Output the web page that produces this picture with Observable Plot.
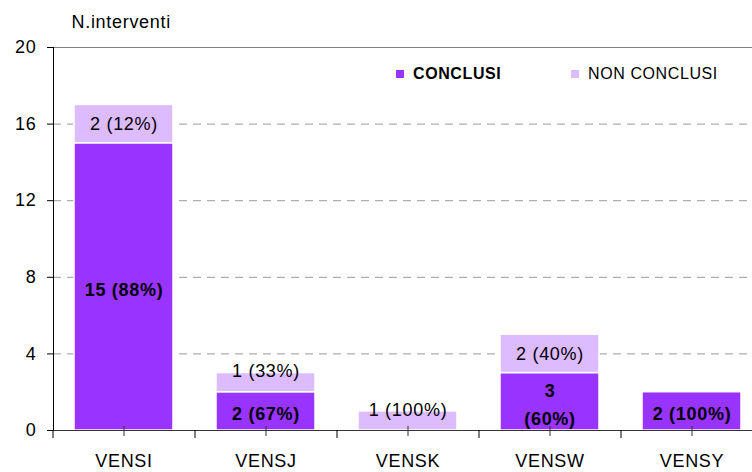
<!DOCTYPE html>
<html><head><meta charset="utf-8">
<script src="https://cdn.jsdelivr.net/npm/d3@7"></script>
<script src="https://cdn.jsdelivr.net/npm/@observablehq/plot@0.6"></script>
<style>
body{margin:0;background:#fff;}
#wrap{position:relative;width:752px;height:472px;overflow:hidden;font-family:"Liberation Sans",Arial,sans-serif;color:#000;}
.leg{position:absolute;top:65px;font-size:16px;letter-spacing:0.6px;line-height:18px;display:flex;align-items:center;white-space:nowrap;}
.sw{width:8px;height:8px;display:inline-block;margin-right:9px;}
</style></head><body><div id="wrap"></div>
<script>
const categories = ["VENSI", "VENSJ", "VENSK", "VENSW", "VENSY"];
const conclusi = [15, 2, 0, 3, 2];
const nonConclusi = [2, 1, 1, 2, 0];
const conclusiLabels = ["15 (88%)", "2 (67%)", "", "3\n(60%)", "2 (100%)"];
const nonConclusiLabels = ["2 (12%)", "1 (33%)", "1 (100%)", "2 (40%)", ""];
const yTicks = [0, 4, 8, 12, 16, 20];
const gridTicks = [4, 8, 12, 16];
const seriesNames = ["CONCLUSI", "NON CONCLUSI"];
const colors = ["#9933ff", "#ddbbff"];
const yTitle = "N.interventi";

const W = 752, H = 472, mT = 47, mB = 42, mL = 53, mR = -11;
const frameH = H - mT - mB;
const step = (W - mL - mR) / categories.length;
const idx = categories.map((_, i) => i);

const chart = Plot.plot({
  width: W, height: H,
  marginTop: mT, marginBottom: mB, marginLeft: mL, marginRight: mR,
  style: {fontFamily: "Liberation Sans, Arial, sans-serif", fontSize: "18px", letterSpacing: "0.7px", color: "#000", background: "#fff"},
  x: {domain: categories, paddingInner: 0.3, paddingOuter: 0.15},
  y: {domain: [0, 20]},
  marks: [
    Plot.gridY(gridTicks, {stroke: "#999", strokeOpacity: 1, strokeDasharray: "8,6"}),
    Plot.ruleY([20], {stroke: "#808080"}),
    Plot.barY(idx.filter(i => conclusi[i] > 0), {x: i => categories[i], y1: 0, y2: i => conclusi[i], fill: colors[0], stroke: "#fff", strokeWidth: 1.5}),
    Plot.barY(idx.filter(i => nonConclusi[i] > 0), {x: i => categories[i], y1: i => conclusi[i], y2: i => conclusi[i] + nonConclusi[i], fill: colors[1], stroke: "#fff", strokeWidth: 1.5}),
    Plot.text(idx.filter(i => conclusi[i] > 0), {x: i => categories[i], y: i => conclusi[i] / 2, text: i => conclusiLabels[i], fontWeight: "bold", lineHeight: 1.55, fill: "#000"}),
    Plot.text(idx.filter(i => nonConclusi[i] > 1), {x: i => categories[i], y: i => conclusi[i] + nonConclusi[i] / 2, text: i => nonConclusiLabels[i], fill: "#000"}),
    Plot.text(idx.filter(i => nonConclusi[i] === 1), {x: i => categories[i], y: i => conclusi[i] + nonConclusi[i] / 2, text: i => nonConclusiLabels[i], dy: -11, fill: "#000"}),
    Plot.ruleY([0], {stroke: "#333"}),
    Plot.frame({anchor: "left", stroke: "#000"}),
    Plot.ruleX(categories, {x: d => d, insetTop: frameH - 4, insetBottom: -6, stroke: "#333"}),
    Plot.ruleX(categories, {x: d => d, dx: -step / 2, insetTop: frameH, insetBottom: -8, stroke: "#000"}),
    Plot.axisY({ticks: yTicks, tickSize: 6, tickPadding: 11, label: null, stroke: "#000"}),
    Plot.axisX({tickSize: 0, tickPadding: 24, label: null}),
    Plot.text([yTitle], {frameAnchor: "top-left", dx: 18, dy: -25, lineAnchor: "middle", textAnchor: "start", fill: "#000"})
  ]
});

const wrap = document.getElementById("wrap");
wrap.appendChild(chart);

const legPos = [396, 571];
seriesNames.forEach((name, i) => {
  const d = document.createElement("div");
  d.className = "leg";
  d.style.left = legPos[i] + "px";
  d.style.fontWeight = i === 0 ? "bold" : "normal";
  const sw = document.createElement("span");
  sw.className = "sw";
  sw.style.background = colors[i];
  d.appendChild(sw);
  d.appendChild(document.createTextNode(name));
  wrap.appendChild(d);
});
</script></body></html>
